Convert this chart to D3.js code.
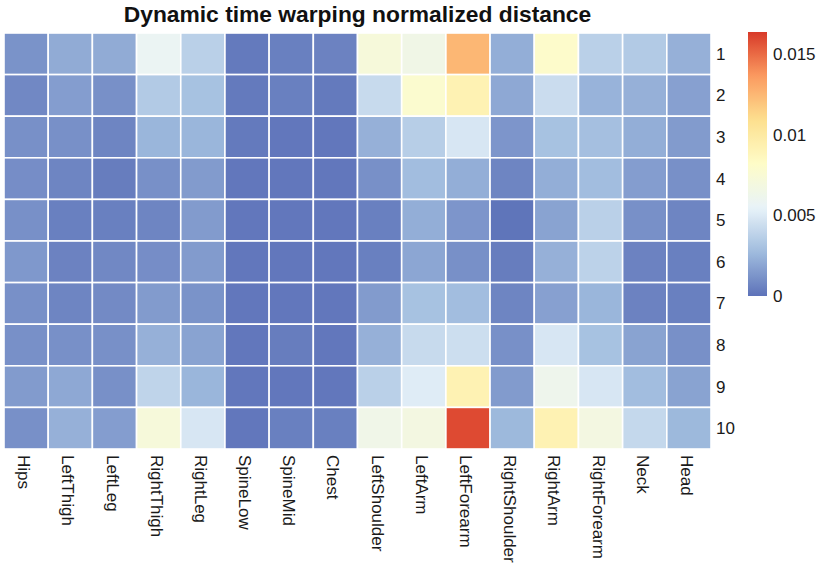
<!DOCTYPE html>
<html>
<head>
<meta charset="utf-8">
<script src="https://cdn.jsdelivr.net/npm/d3@7"></script>
<style>
  body { margin: 0; background: #fff; }
  svg { display: block; font-family: "Liberation Sans", Arial, sans-serif; }
</style>
</head>
<body>
<svg width="819" height="568"></svg>
<script>
const width = 819;
const height = 568;

// joints (columns) and trials (rows)
var joints = ["Hips", "LeftThigh", "LeftLeg", "RightThigh", "RightLeg", "SpineLow", "SpineMid", "Chest",
    "LeftShoulder", "LeftArm", "LeftForearm", "RightShoulder", "RightArm", "RightForearm", "Neck", "Head"];
var trials = ["1", "2", "3", "4", "5", "6", "7", "8", "9", "10"];

// one array per trial
var trial1  = [0.0012, 0.0021, 0.0021, 0.0058, 0.0037, 0.0003, 0.0005, 0.0006, 0.0072, 0.0065, 0.0125, 0.0022, 0.0080, 0.0037, 0.0034, 0.0023];
var trial2  = [0.0008, 0.0016, 0.0011, 0.0034, 0.0030, 0.0003, 0.0005, 0.0003, 0.0042, 0.0078, 0.0092, 0.0020, 0.0043, 0.0024, 0.0023, 0.0017];
var trial3  = [0.0011, 0.0011, 0.0007, 0.0025, 0.0025, 0.0003, 0.0002, 0.0002, 0.0023, 0.0036, 0.0048, 0.0013, 0.0030, 0.0029, 0.0022, 0.0015];
var trial4  = [0.0010, 0.0007, 0.0004, 0.0011, 0.0015, 0.0002, 0.0002, 0.0002, 0.0011, 0.0028, 0.0022, 0.0007, 0.0022, 0.0028, 0.0016, 0.0011];
var trial5  = [0.0011, 0.0005, 0.0005, 0.0007, 0.0015, 0.0002, 0.0002, 0.0002, 0.0005, 0.0022, 0.0013, 0.0001, 0.0018, 0.0037, 0.0011, 0.0007];
var trial6  = [0.0014, 0.0006, 0.0008, 0.0010, 0.0015, 0.0002, 0.0002, 0.0002, 0.0005, 0.0019, 0.0011, 0.0004, 0.0023, 0.0038, 0.0006, 0.0005];
var trial7  = [0.0011, 0.0007, 0.0009, 0.0015, 0.0012, 0.0002, 0.0002, 0.0002, 0.0015, 0.0030, 0.0028, 0.0007, 0.0017, 0.0025, 0.0006, 0.0005];
var trial8  = [0.0011, 0.0011, 0.0011, 0.0023, 0.0018, 0.0002, 0.0004, 0.0002, 0.0023, 0.0042, 0.0044, 0.0011, 0.0048, 0.0030, 0.0018, 0.0011];
var trial9  = [0.0015, 0.0020, 0.0011, 0.0039, 0.0025, 0.0002, 0.0002, 0.0002, 0.0037, 0.0051, 0.0092, 0.0015, 0.0062, 0.0048, 0.0028, 0.0018];
var trial10 = [0.0011, 0.0023, 0.0016, 0.0072, 0.0048, 0.0002, 0.0005, 0.0005, 0.0064, 0.0068, 0.0159, 0.0026, 0.0092, 0.0068, 0.0041, 0.0026];

var distances = [trial1, trial2, trial3, trial4, trial5, trial6, trial7, trial8, trial9, trial10];

var legendTicks = [0, 0.005, 0.01, 0.015];
var legendLabels = ["0", "0.005", "0.01", "0.015"];
var maxValue = 0.01636;

var palette = ["#5d72b9", "#a0bcde", "#e8f3f9", "#fefcc8", "#fde08f", "#fb9a60", "#d83a29"];

var svg = d3.select("svg");

var x = d3.scaleBand().domain(joints).range([4, 711]);
var y = d3.scaleBand().domain(trials).range([33, 449]);

var color = d3.scaleLinear()
    .domain(palette.map(function (d, i) { return maxValue * i / (palette.length - 1); }))
    .range(palette);

var cells = [];
distances.forEach(function (row, i) {
    row.forEach(function (v, j) {
        cells.push({ trial: trials[i], joint: joints[j], value: v });
    });
});

svg.append("g")
    .selectAll("rect")
    .data(cells)
    .join("rect")
    .attr("x", function (d) { return x(d.joint); })
    .attr("y", function (d) { return y(d.trial); })
    .attr("width", x.bandwidth())
    .attr("height", y.bandwidth())
    .attr("fill", function (d) { return color(d.value); })
    .attr("stroke", "#ffffff")
    .attr("stroke-width", 1.6);

// title
svg.append("text")
    .attr("x", (x.range()[0] + x.range()[1]) / 2)
    .attr("y", 22)
    .attr("text-anchor", "middle")
    .attr("font-size", 22.8)
    .attr("font-weight", "bold")
    .attr("fill", "#111")
    .text("Dynamic time warping normalized distance");

// row labels
svg.append("g")
    .selectAll("text")
    .data(trials)
    .join("text")
    .attr("x", 716)
    .attr("y", function (d) { return y(d) + y.bandwidth() / 2; })
    .attr("dy", "0.35em")
    .attr("font-size", 17)
    .attr("fill", "#1a1a1a")
    .text(function (d) { return d; });

// column labels, rotated
svg.append("g")
    .selectAll("text")
    .data(joints)
    .join("text")
    .attr("transform", function (d) {
        return "translate(" + (x(d) + x.bandwidth() / 2 - 2) + ",455) rotate(90)";
    })
    .attr("dy", "0.35em")
    .attr("font-size", 17)
    .attr("fill", "#1a1a1a")
    .text(function (d) { return d; });

// legend
var ly = d3.scaleLinear().domain([0, maxValue]).range([296, 32]);

var grad = svg.append("defs").append("linearGradient")
    .attr("id", "legend-grad")
    .attr("x1", 0).attr("y1", 1).attr("x2", 0).attr("y2", 0);

grad.selectAll("stop")
    .data(d3.range(0, 1.0001, 0.02))
    .join("stop")
    .attr("offset", function (d) { return d; })
    .attr("stop-color", function (d) { return color(d * maxValue); });

svg.append("rect")
    .attr("x", 748)
    .attr("y", ly(maxValue))
    .attr("width", 19)
    .attr("height", ly(0) - ly(maxValue))
    .attr("fill", "url(#legend-grad)");

svg.append("g")
    .selectAll("text")
    .data(legendTicks)
    .join("text")
    .attr("x", 773)
    .attr("y", function (d) { return ly(d); })
    .attr("dy", "0.35em")
    .attr("font-size", 17)
    .attr("fill", "#1a1a1a")
    .text(function (d, i) { return legendLabels[i]; });
</script>
</body>
</html>
